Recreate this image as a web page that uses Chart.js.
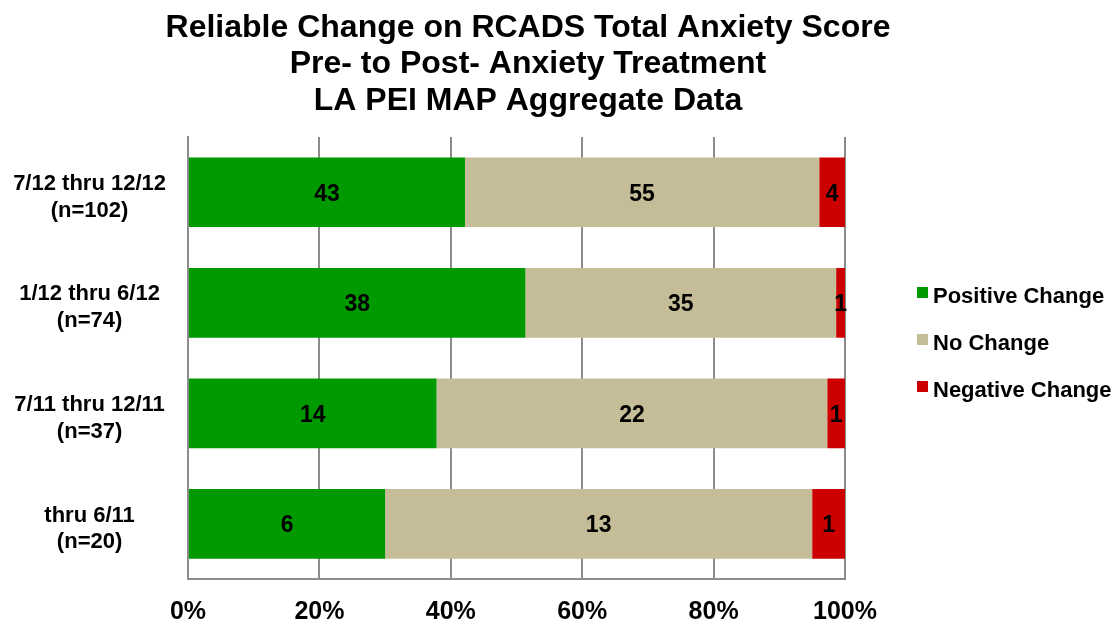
<!DOCTYPE html>
<html>
<head>
<meta charset="utf-8">
<script src="https://cdn.jsdelivr.net/npm/chart.js@4"></script>
<style>
  html, body { margin: 0; padding: 0; background: #fff; }
  #wrap { width: 1118px; height: 628px; }
</style>
</head>
<body>
<div id="wrap"><canvas id="chart1"></canvas></div>
<script>
var titleLines = ['Reliable Change on RCADS Total Anxiety Score', 'Pre- to Post- Anxiety Treatment', 'LA PEI MAP Aggregate Data'];
var periods = [['7/12 thru 12/12', '(n=102)'], ['1/12 thru 6/12', '(n=74)'], ['7/11 thru 12/11', '(n=37)'], ['thru 6/11', '(n=20)']];
var positive = [43, 38, 14, 6];
var noChange = [55, 35, 22, 13];
var negative = [4, 1, 1, 1];
var seriesNames = ['Positive Change', 'No Change', 'Negative Change'];
var seriesColors = ['#009900', '#c4bd97', '#cc0000'];

var totals = positive.map(function(v, i) { return v + noChange[i] + negative[i]; });
function pct(arr) { return arr.map(function(v, i) { return v / totals[i] * 100; }); }

var FONT = '"Liberation Sans", Arial, sans-serif';
var GRAY = '#8c8c8c';

// counts in the middle of every segment, plus title and legend
var extras = {
    id: 'extras',
    afterDatasetsDraw: function(chart) {
        var ctx = chart.ctx;
        ctx.save();
        ctx.font = 'bold 23px ' + FONT;
        ctx.fillStyle = '#000';
        ctx.textAlign = 'center';
        ctx.textBaseline = 'middle';
        chart.data.datasets.forEach(function(ds, d) {
            chart.getDatasetMeta(d).data.forEach(function(bar, i) {
                ctx.fillText(String(ds.counts[i]), (bar.x + bar.base) / 2, bar.y + 2);
            });
        });
        ctx.restore();
    },
    afterDraw: function(chart) {
        var ctx = chart.ctx;
        ctx.save();
        ctx.fillStyle = '#000';
        ctx.font = 'bold 32px ' + FONT;
        ctx.textAlign = 'center';
        ctx.textBaseline = 'alphabetic';
        var base = [37, 73, 110];
        titleLines.forEach(function(t, i) { ctx.fillText(t, 528, base[i]); });

        ctx.font = 'bold 22px ' + FONT;
        ctx.textAlign = 'left';
        var lx = chart.chartArea.right + 72;
        chart.data.datasets.forEach(function(ds, i) {
            var y = 303 + i * 47;
            ctx.fillStyle = ds.backgroundColor;
            ctx.fillRect(lx, y - 16, 11, 11);
            ctx.fillStyle = '#000';
            ctx.fillText(ds.label, lx + 16, y);
        });
        ctx.restore();
    }
};

var ctx = document.getElementById('chart1').getContext('2d');
var chart1 = new Chart(ctx, {
    type: 'bar',
    data: {
        labels: periods,
        datasets: [
            { label: seriesNames[0], data: pct(positive), counts: positive, backgroundColor: seriesColors[0] },
            { label: seriesNames[1], data: pct(noChange), counts: noChange, backgroundColor: seriesColors[1] },
            { label: seriesNames[2], data: pct(negative), counts: negative, backgroundColor: seriesColors[2] }
        ]
    },
    options: {
        indexAxis: 'y',
        responsive: true,
        maintainAspectRatio: false,
        animation: false,
        layout: { padding: { top: 137, right: 273, bottom: 0, left: 0 } },
        datasets: { bar: { barPercentage: 0.63, categoryPercentage: 1 } },
        plugins: {
            legend: { display: false },
            title: { display: false },
            tooltip: { enabled: false }
        },
        scales: {
            x: {
                stacked: true,
                min: 0,
                max: 100,
                afterFit: function(scale) { scale.height = 48; },
                ticks: {
                    stepSize: 20,
                    padding: 18,
                    color: '#000',
                    font: { family: FONT, size: 25, weight: 'bold' },
                    callback: function(v) { return v + '%'; }
                },
                grid: { color: GRAY, lineWidth: 2, drawTicks: false },
                border: { color: GRAY, width: 2 }
            },
            y: {
                stacked: true,
                afterFit: function(scale) { scale.width = 188; },
                ticks: {
                    crossAlign: 'center',
                    padding: 22,
                    labelOffset: 5,
                    color: '#000',
                    font: { family: FONT, size: 22, weight: 'bold', lineHeight: 1.22 }
                },
                grid: { display: false, drawTicks: false },
                border: { color: GRAY, width: 2 }
            }
        }
    },
    plugins: [extras]
});
</script>
</body>
</html>
